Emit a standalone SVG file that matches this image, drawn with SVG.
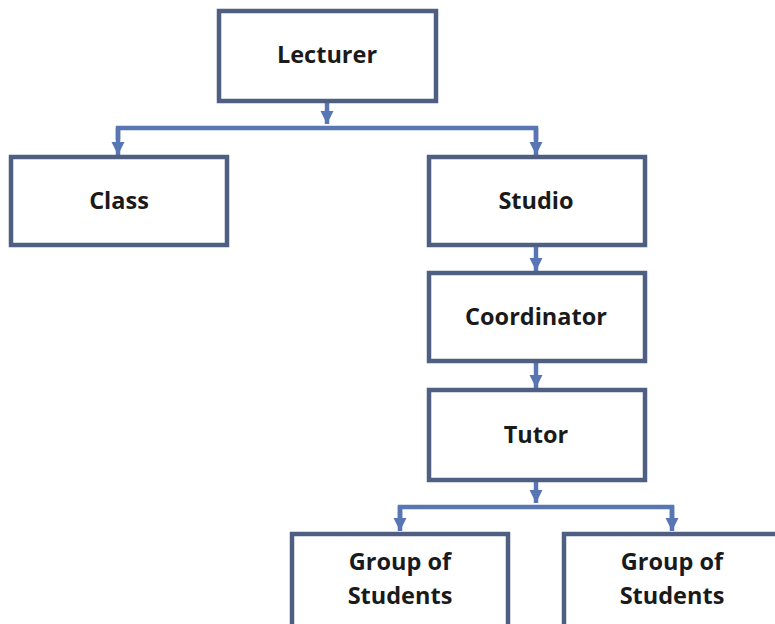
<svg xmlns="http://www.w3.org/2000/svg" width="775" height="624" viewBox="0 0 775 624">
<style>
.box{fill:#fff;stroke:#4f5f82;stroke-width:4.5}
.lbl{font-family:"Open Sans","Liberation Sans",sans-serif;font-weight:bold;font-size:23.5px;fill:#1a1a1a;text-anchor:middle}
.con{fill:none;stroke:#5876b4;stroke-width:4.5}
</style>
<defs>
<marker id="ah" viewBox="0 0 10 10" refX="10" refY="5" markerWidth="3" markerHeight="3" orient="auto" markerUnits="strokeWidth">
<path d="M0,0 L10,5 L0,10 z" fill="#5876b4"/>
</marker>
</defs>
<rect width="775" height="624" fill="#fff"/>
<g id="connectors">
<path class="con" d="M327,101 V124" marker-end="url(#ah)"/>
<path class="con" d="M118,140 V128 H536 V140"/>
<path class="con" d="M118,128 V155" marker-end="url(#ah)"/>
<path class="con" d="M536,128 V155" marker-end="url(#ah)"/>
<path class="con" d="M536,246 V271" marker-end="url(#ah)"/>
<path class="con" d="M536,362 V388" marker-end="url(#ah)"/>
<path class="con" d="M536,481 V503" marker-end="url(#ah)"/>
<path class="con" d="M400,518 V507 H672 V518"/>
<path class="con" d="M400,506 V531" marker-end="url(#ah)"/>
<path class="con" d="M672,506 V531" marker-end="url(#ah)"/>
</g>
<g id="lecturer"><rect class="box" x="219" y="11" width="217" height="90"/><text class="lbl" x="327" y="63">Lecturer</text></g>
<g id="class"><rect class="box" x="11" y="157" width="216" height="88"/><text class="lbl" x="119" y="209">Class</text></g>
<g id="studio"><rect class="box" x="429" y="157" width="216" height="88"/><text class="lbl" x="536" y="209">Studio</text></g>
<g id="coordinator"><rect class="box" x="429" y="273" width="216" height="88"/><text class="lbl" x="536" y="325">Coordinator</text></g>
<g id="tutor"><rect class="box" x="429" y="390" width="216" height="90"/><text class="lbl" x="536" y="443">Tutor</text></g>
<g id="group1"><rect class="box" x="292" y="534" width="216" height="110"/><text class="lbl" x="400" y="570">Group of</text><text class="lbl" x="400" y="604">Students</text></g>
<g id="group2"><rect class="box" x="564" y="534" width="230" height="110"/><text class="lbl" x="672" y="570">Group of</text><text class="lbl" x="672" y="604">Students</text></g>
</svg>
